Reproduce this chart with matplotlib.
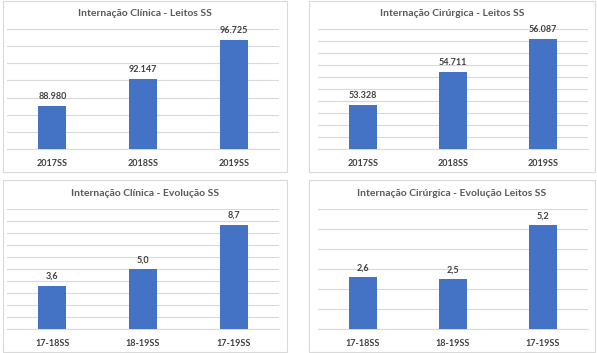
import matplotlib
matplotlib.use("Agg")
import matplotlib.pyplot as plt
from matplotlib.patches import Rectangle

plt.rcParams['font.family'] = ['Lato', 'DejaVu Sans']

# ---- data ----
cats_leitos = ["2017SS", "2018SS", "2019SS"]
cats_evol = ["17-18SS", "18-19SS", "17-19SS"]
clinica_leitos = [88980, 92147, 96725]
cirurgica_leitos = [53328, 54711, 56087]
clinica_evol = [3.6, 5.0, 8.7]
cirurgica_evol = [2.6, 2.5, 5.2]

titles = ["Internação Clínica - Leitos SS",
          "Internação Cirúrgica - Leitos SS",
          "Internação Clínica - Evolução SS",
          "Internação Cirúrgica - Evolução Leitos SS"]

W, H = 597, 353
fig = plt.figure(figsize=(W / 100, H / 100), dpi=100)
fig.patch.set_facecolor("white")

BLUE = "#4472C4"
GRID = "#D9D9D9"
TXT = "#404040"
TTL = "#595959"


def fmt_thousands(v):
    return f"{v:,.0f}".replace(",", ".")


def fmt_dec(v):
    return f"{v:.1f}".replace(".", ",")


panels = [
    # (border px: x0,y0,x1,y1), (axes px: x0,y0,x1,y1), cats, values, ylim, step, fmt, title
    ((3, 1, 287, 172), (7, 29, 279, 149), cats_leitos, clinica_leitos, (84000, 98000), 2000, fmt_thousands, titles[0]),
    ((309, 1, 595, 172), (318, 29, 588, 149), cats_leitos, cirurgica_leitos, (51500, 56500), 500, fmt_thousands, titles[1]),
    ((3, 180, 287, 352), (7, 209, 279, 329), cats_evol, clinica_evol, (0, 10), 1, fmt_dec, titles[2]),
    ((309, 180, 595, 352), (318, 209, 588, 329), cats_evol, cirurgica_evol, (0, 6), 1, fmt_dec, titles[3]),
]

for border, axp, cats, vals, ylim, step, fmt, title in panels:
    bx0, by0, bx1, by1 = border
    fig.patches.append(Rectangle((bx0 / W, 1 - by1 / H), (bx1 - bx0) / W, (by1 - by0) / H,
                                 transform=fig.transFigure, fill=False,
                                 edgecolor=GRID, linewidth=0.8, zorder=0))
    ax0, ay0, ax1, ay1 = axp
    ax = fig.add_axes([ax0 / W, 1 - ay1 / H, (ax1 - ax0) / W, (ay1 - ay0) / H])
    x = list(range(len(cats)))
    ax.bar(x, vals, width=0.31, color=BLUE, zorder=3)
    ax.set_xlim(-0.5, len(cats) - 0.5)
    ax.set_ylim(*ylim)
    import numpy as np
    ax.set_yticks(np.arange(ylim[0], ylim[1] + step / 2, step))
    ax.yaxis.grid(True, color=GRID, linewidth=0.8, zorder=0)
    ax.set_yticklabels([])
    ax.tick_params(axis="y", length=0)
    ax.set_xticks(x)
    ax.set_xticklabels(cats, fontsize=6.5, fontweight="bold", color=TXT)
    ax.tick_params(axis="x", length=0, pad=7)
    for s in ["top", "right", "left"]:
        ax.spines[s].set_visible(False)
    ax.spines["bottom"].set_color(GRID)
    ax.spines["bottom"].set_linewidth(0.8)
    for xi, v in zip(x, vals):
        ax.annotate(fmt(v), (xi, v), xytext=(0, 3.5), textcoords="offset points",
                    ha="center", va="bottom", fontsize=6.5, fontweight="bold", color=TXT)
    fig.text((bx0 + bx1) / 2 / W, 1 - (by0 + 13) / H, title, ha="center", va="center",
             fontsize=7.5, fontweight="bold", color=TTL)

fig.savefig("out.png", dpi=100)
